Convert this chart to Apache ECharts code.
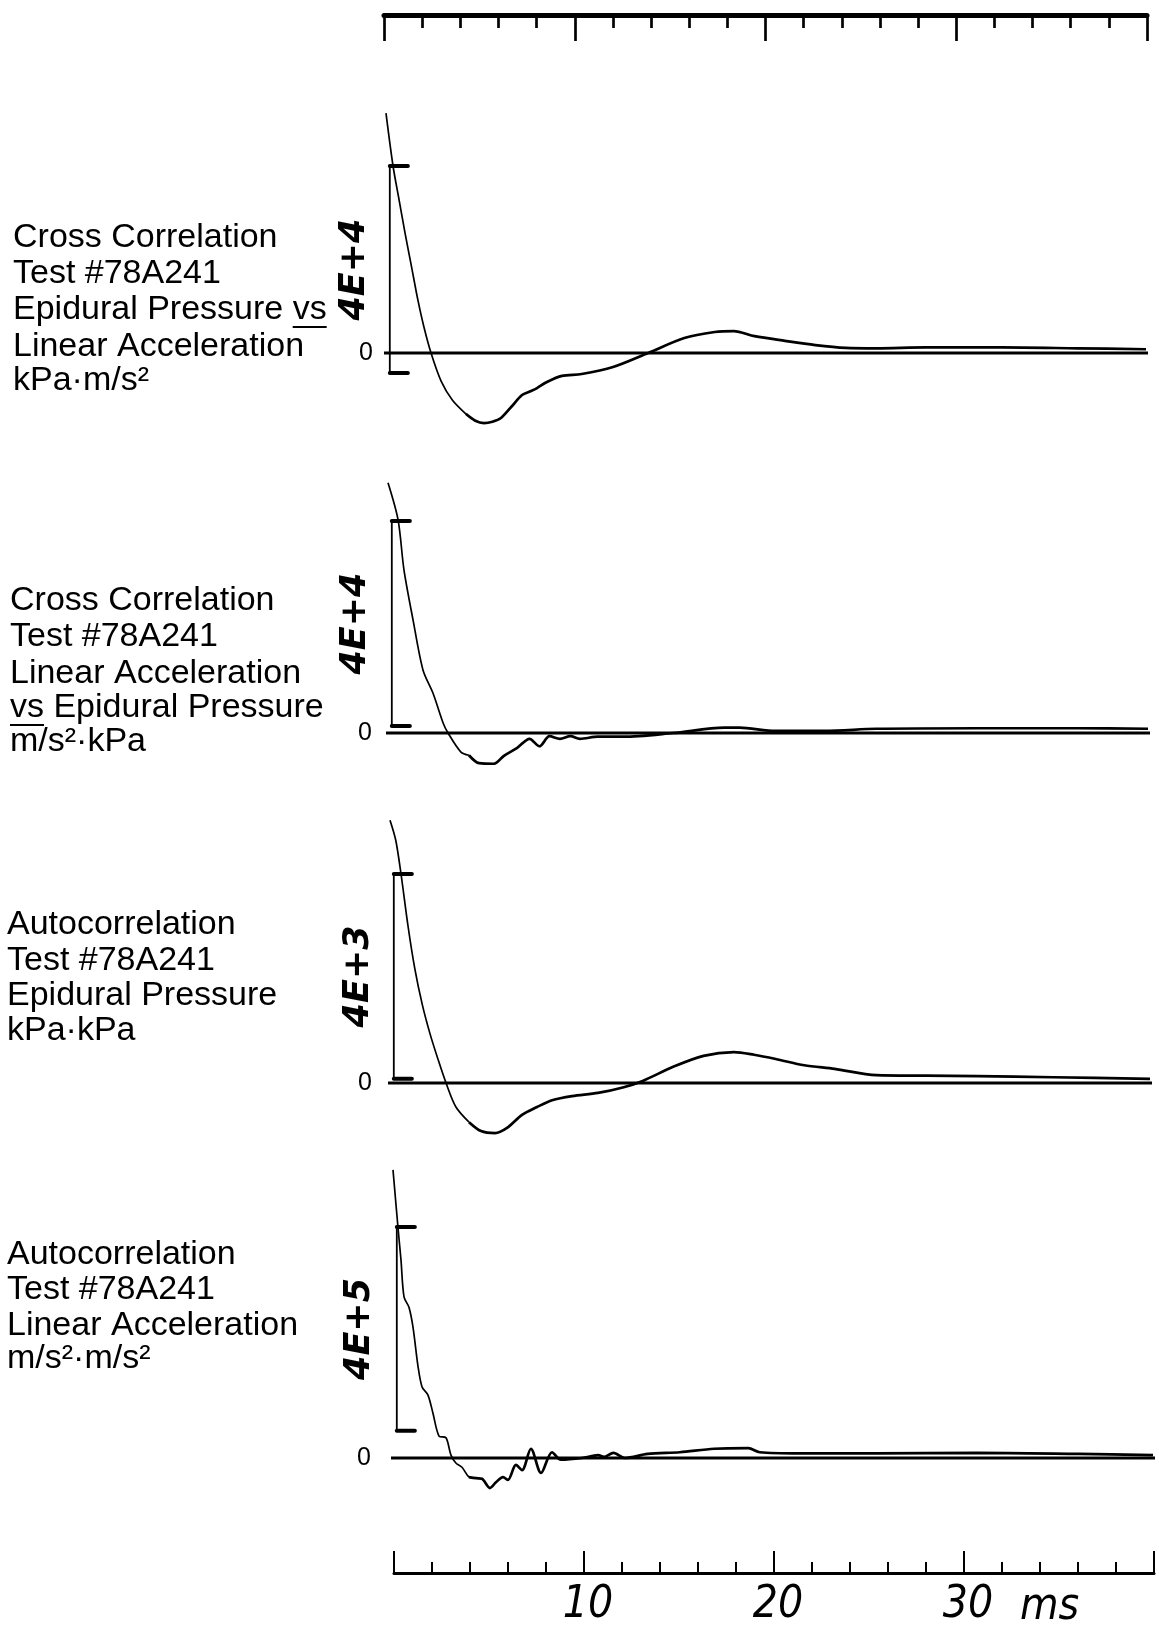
<!DOCTYPE html>
<html><head><meta charset="utf-8">
<script src="https://cdn.jsdelivr.net/npm/echarts@6/dist/echarts.min.js"></script>
<style>html,body{margin:0;padding:0;background:#fff}#c{width:1159px;height:1628px}</style>
</head><body><div id="c"></div>
<script>
// ---------------- data ----------------
const timeMin = 0, timeMax = 40, timeMajor = 10;       // ms
const timeLabels = [10, 20, 30];
const timeUnit = 'ms';
const scaleLabels = ['4E+4', '4E+4', '4E+3', '4E+5'];
const scaleTop = [4, 4, 4, 4];                          // scale bar top (units of the label)
const scaleBottom = [-0.43, 0.13, 0.08, 0.47];          // scale bar foot
const zeroSpan = [-0.6, 40.4];                          // extent of the zero line, ms

// [lag ms, value] cross correlation: epidural pressure vs linear acceleration
const ccPressAccel = [[0,5.13],[0.37,4.0],[0.7,3.25],[1.0,2.57],[1.35,1.83],[1.68,1.13],[2.0,0.55],[2.37,0],[2.9,-0.6],[3.5,-1.01],[4.2,-1.3],[4.7,-1.45],[5.16,-1.5],[5.6,-1.47],[6.05,-1.39],[6.6,-1.15],[7.16,-0.9],[7.6,-0.82],[7.95,-0.75],[8.47,-0.62],[9.26,-0.49],[10.3,-0.45],[11.95,-0.3],[13.8,0],[15.7,0.32],[17.3,0.45],[18.3,0.47],[19.4,0.36],[21.0,0.26],[22.6,0.17],[24.2,0.11],[25.8,0.1],[28.4,0.12],[32.4,0.12],[36.4,0.1],[40,0.08]];
// cross correlation: linear acceleration vs epidural pressure
const ccAccelPress = [[0,4.72],[0.53,4.02],[0.84,3.08],[1.32,2.13],[1.84,1.19],[2.37,0.75],[2.9,0.19],[3.16,0],[3.84,-0.36],[4.26,-0.42],[4.8,-0.57],[5.58,-0.58],[6.1,-0.43],[6.8,-0.28],[7.45,-0.11],[7.97,-0.25],[8.5,-0.06],[9.05,-0.11],[9.6,-0.06],[10.1,-0.11],[11.05,-0.07],[12.4,-0.07],[15.0,0],[17.7,0.1],[18.5,0.1],[20.4,0.04],[23.0,0.04],[25.7,0.08],[31.0,0.09],[36.3,0.09],[40,0.08]];
// autocorrelation: epidural pressure
const acPress = [[0,5.03],[0.3,4.65],[0.58,4.0],[0.95,3.0],[1.3,2.2],[1.7,1.5],[2.1,0.95],[2.53,0.45],[2.95,0],[3.47,-0.46],[4.16,-0.75],[4.79,-0.92],[5.53,-0.96],[6.16,-0.86],[6.95,-0.61],[7.74,-0.46],[8.53,-0.33],[9.58,-0.25],[10.95,-0.19],[12.3,-0.08],[13.3,0.04],[14.9,0.31],[16.5,0.52],[18.1,0.59],[19.16,0.54],[20.3,0.46],[21.8,0.34],[23.4,0.27],[25.6,0.15],[28.2,0.14],[30.9,0.13],[34.9,0.11],[40,0.08]];
// autocorrelation: linear acceleration
const acAccel = [[0,4.99],[0.26,4.0],[0.42,3.43],[0.58,2.79],[0.84,2.61],[1.05,2.27],[1.32,1.58],[1.53,1.23],[1.84,1.09],[2.1,0.78],[2.42,0.38],[2.79,0.35],[3.05,0.05],[3.32,-0.09],[3.63,-0.16],[4.0,-0.33],[4.37,-0.35],[4.68,-0.36],[5.1,-0.52],[5.42,-0.42],[5.79,-0.33],[6.05,-0.38],[6.47,-0.12],[6.79,-0.21],[7.26,0.16],[7.79,-0.26],[8.37,0.1],[8.84,-0.03],[9.95,0],[10.8,0.05],[11.1,0.02],[11.6,0.09],[12.2,0],[13.4,0.07],[15.1,0.1],[16.9,0.16],[18.7,0.17],[19.3,0.1],[21.4,0.08],[25.4,0.08],[30.7,0.09],[36.1,0.07],[40,0.05]];

const curves = [ccPressAccel, ccAccelPress, acPress, acAccel];

const titleLines = [
  ['Cross Correlation', 'Test #78A241', 'Epidural Pressure vs', 'Linear Acceleration', 'kPa·m/s²'],
  ['Cross Correlation', 'Test #78A241', 'Linear Acceleration', 'vs Epidural Pressure', 'm/s²·kPa'],
  ['Autocorrelation', 'Test #78A241', 'Epidural Pressure', 'kPa·kPa'],
  ['Autocorrelation', 'Test #78A241', 'Linear Acceleration', 'm/s²·m/s²']
];
const underlined = [{line: 2, word: 'vs'}, {line: 3, word: 'vs'}, null, null];

// ---------------- layout (pixels) ----------------
const PX_PER_MS = 19;
const HALF = 3.6;            // half y-range of each panel, in label units
const BAR_MS = 0.2;          // scale bar sits just right of lag 0
const TICK_MS = 0.95;        // scale-bar tick length
const SPLIT_MS = 4;          // pen trace becomes heavier after this lag
const layout = [
  {x0: 386, zeroY: 353,  pxu: 46.75, textX: 13, textY: [238, 274, 310, 347, 381], nameGap: 14, labelMargin: 13},
  {x0: 388, zeroY: 733,  pxu: 53,    textX: 10, textY: [601, 637, 674, 708, 742], nameGap: 15, labelMargin: 16},
  {x0: 390, zeroY: 1083, pxu: 52.25, textX: 7,  textY: [925, 961, 996, 1031],     nameGap: 14, labelMargin: 18},
  {x0: 393, zeroY: 1458, pxu: 57.75, textX: 7,  textY: [1255, 1290, 1326, 1359],  nameGap: 16, labelMargin: 22}
];
const TEXT_FONT = 'Liberation Sans';
const TEXT_SIZE = 34;
const INK = '#000';

const grids = [], xAxes = [], yAxes = [], series = [], graphics = [];

layout.forEach((L, i) => {
  const c = (scaleBottom[i] + scaleTop[i]) / 2;
  const yMin = c - HALF, yMax = c + HALF;
  grids.push({left: L.x0, top: L.zeroY - yMax * L.pxu, width: (timeMax - timeMin) * PX_PER_MS, height: 2 * HALF * L.pxu});
  xAxes.push({gridIndex: i, type: 'value', min: timeMin, max: timeMax, show: false});
  yAxes.push({
    gridIndex: i, type: 'value', min: yMin, max: yMax,
    axisLine: {show: false}, axisTick: {show: false}, splitLine: {show: false},
    axisLabel: {customValues: [0], formatter: v => Math.abs(v) < 1e-9 ? '0' : '',
      margin: L.labelMargin, color: INK, fontSize: 25, fontFamily: TEXT_FONT},
    name: scaleLabels[i], nameLocation: 'middle', nameRotate: 90, nameGap: L.nameGap, nameMoveOverlap: false,
    nameTextStyle: {color: INK, fontSize: 35, fontStyle: 'italic', fontWeight: 'bold', fontFamily: 'DejaVu Sans'}
  });
  const base = {type: 'line', xAxisIndex: i, yAxisIndex: i, symbol: 'none', silent: true, animation: false};
  // zero line
  series.push(Object.assign({}, base, {data: [[zeroSpan[0], 0], [zeroSpan[1], 0]], clip: false,
    lineStyle: {color: INK, width: 3}}));
  // curve: light then heavy pen
  const d = curves[i];
  series.push(Object.assign({}, base, {data: d.filter(p => p[0] <= SPLIT_MS + 0.6), smooth: 0.3, clip: false,
    lineStyle: {color: INK, width: 1.7}}));
  series.push(Object.assign({}, base, {data: d.filter(p => p[0] >= SPLIT_MS), smooth: 0.3, clip: false,
    lineStyle: {color: INK, width: 2.7}}));
  // scale bar
  series.push(Object.assign({}, base, {data: [[BAR_MS, scaleBottom[i]], [BAR_MS, scaleTop[i]]],
    lineStyle: {color: INK, width: 1.8}}));
  series.push(Object.assign({}, base, {data: [[BAR_MS, scaleTop[i]], [BAR_MS + TICK_MS, scaleTop[i]]],
    lineStyle: {color: INK, width: 4, cap: 'round'}}));
  series.push(Object.assign({}, base, {data: [[BAR_MS, scaleBottom[i]], [BAR_MS + TICK_MS, scaleBottom[i]]],
    lineStyle: {color: INK, width: 4, cap: 'round'}}));

  // side titles
  const ctx = document.createElement('canvas').getContext('2d');
  ctx.font = TEXT_SIZE + 'px "' + TEXT_FONT + '"';
  titleLines[i].forEach((t, j) => {
    graphics.push({type: 'text', x: L.textX, y: L.textY[j], silent: true,
      style: {text: t, fill: INK, fontSize: TEXT_SIZE, fontFamily: TEXT_FONT, verticalAlign: 'middle', align: 'left'}});
  });
  const u = underlined[i];
  if (u) {
    const t = titleLines[i][u.line];
    const k = t.indexOf(u.word);
    const x1 = L.textX + ctx.measureText(t.slice(0, k)).width;
    const x2 = x1 + ctx.measureText(u.word).width;
    const y = L.textY[u.line] + 17;
    graphics.push({type: 'line', silent: true, shape: {x1: x1, y1: y, x2: x2, y2: y},
      style: {stroke: INK, lineWidth: 2}});
  }
});

// time rulers
const NARROW = "'Liberation Sans Narrow', 'DejaVu Sans Condensed', 'Liberation Sans', sans-serif";
grids.push({left: 384, top: 15, width: 763, height: 30});
grids.push({left: 394, top: 1540, width: 760, height: 35});
xAxes.push({gridIndex: 4, type: 'value', position: 'top', min: timeMin, max: timeMax, interval: timeMajor,
  axisLine: {onZero: false, lineStyle: {color: INK, width: 5}},
  axisTick: {inside: true, length: 26, lineStyle: {color: INK, width: 2.7}},
  minorTick: {show: true, splitNumber: 5, length: 13, lineStyle: {color: INK, width: 2.7}},
  axisLabel: {show: false}, splitLine: {show: false}});
xAxes.push({gridIndex: 5, type: 'value', position: 'bottom', min: timeMin, max: timeMax, interval: timeMajor,
  axisLine: {onZero: false, lineStyle: {color: INK, width: 3}},
  axisTick: {inside: true, length: 22, lineStyle: {color: INK, width: 2}},
  minorTick: {show: true, splitNumber: 5, length: 11, lineStyle: {color: INK, width: 2}},
  axisLabel: {margin: 11, color: INK, fontSize: 44, fontStyle: 'italic', fontFamily: NARROW, padding: [0, 0, 0, 8],
    formatter: v => timeLabels.indexOf(v) >= 0 ? String(v) : ''},
  splitLine: {show: false}});
yAxes.push({gridIndex: 4, type: 'value', show: false});
yAxes.push({gridIndex: 5, type: 'value', show: false});
graphics.push({type: 'text', x: 1020, y: 1608, silent: true,
  style: {text: timeUnit, fill: INK, fontSize: 44, fontStyle: 'italic', fontFamily: NARROW, verticalAlign: 'middle', align: 'left'}});

const chart = echarts.init(document.getElementById('c'), null, {renderer: 'canvas'});
chart.setOption({
  backgroundColor: '#fff',
  animation: false,
  grid: grids, xAxis: xAxes, yAxis: yAxes, series: series, graphic: graphics
});
</script></body></html>
